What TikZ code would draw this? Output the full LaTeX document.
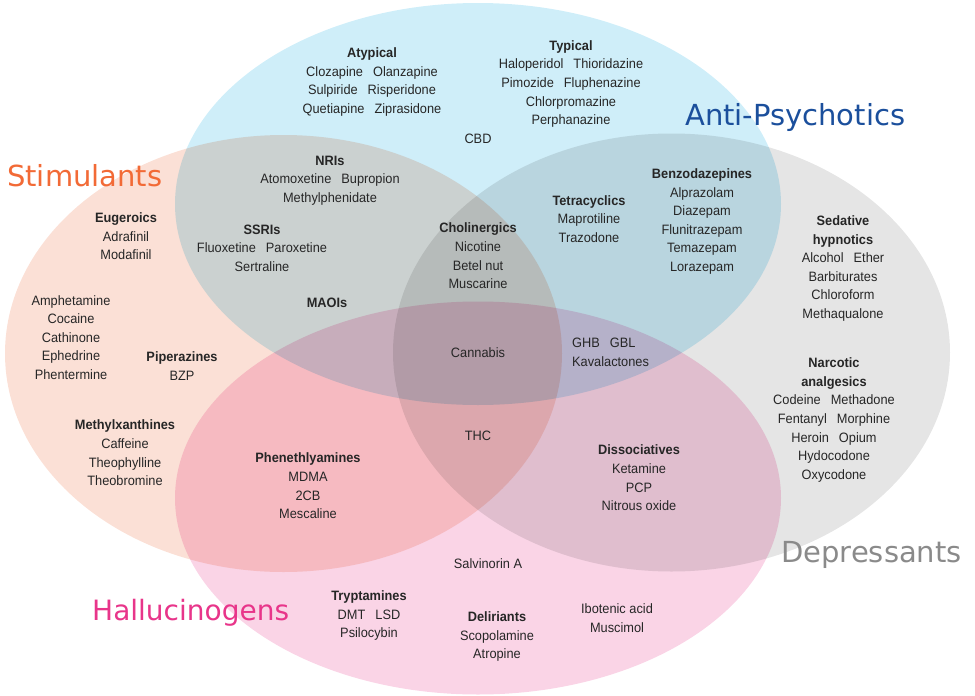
\documentclass[tikz,border=0pt]{standalone}
\usepackage{fontspec}
\setmainfont{Liberation Sans}[FakeStretch=0.94]
\newfontfamily\ttlfont{DejaVu Sans}
\newcommand\lblfont{\fontsize{13.6}{18.6}\selectfont}
\newcommand\wgap{\hspace{10pt}}
\definecolor{cTop}{HTML}{CFEEF9}
\definecolor{cLeft}{HTML}{FBE0D6}
\definecolor{cRight}{HTML}{E5E5E5}
\definecolor{cBot}{HTML}{FAD4E6}
\definecolor{txt}{HTML}{262626}
\definecolor{tStim}{HTML}{F26A36}
\definecolor{tAnti}{HTML}{1B4F9C}
\definecolor{tDep}{HTML}{8A8A8A}
\definecolor{tHal}{HTML}{E8358A}
\tikzset{
  lbl/.style={font=\lblfont, text=txt, align=center, inner sep=0pt},
  ttl/.style={font=\ttlfont\fontsize{29}{30}\selectfont, inner sep=0pt, anchor=base west},
  setfill/.style={draw=none, fill=#1}
}
\begin{document}
\begin{tikzpicture}[x=1pt,y=-1pt]
\useasboundingbox (0,0) rectangle (975,696);
\begin{scope}[blend group=multiply]
  \fill[setfill=cTop]   (478,204) ellipse [x radius=303, y radius=201];
  \fill[setfill=cLeft]  (283.5,353.5) ellipse [x radius=278.5, y radius=218.5];
  \fill[setfill=cRight] (671.5,352.5) ellipse [x radius=278.5, y radius=219];
  \fill[setfill=cBot]   (478,498) ellipse [x radius=303, y radius=196.5];
\end{scope}

% titles
\node[ttl, text=tStim] (tstim) at (7,186) {Stimulants};
\node[ttl, text=tAnti] (tanti) at (685,125) {Anti-Psychotics};
\node[ttl, text=tDep]  (tdep)  at (781,562) {Depressants};
\node[ttl, text=tHal, font=\ttlfont\fontsize{28}{30}\selectfont] (thal)  at (92,620) {Hallucinogens};

% anti-psychotics
\node[lbl] (atyp) at (372,82) {\textbf{Atypical}\\Clozapine\wgap Olanzapine\\Sulpiride\wgap Risperidone\\Quetiapine\wgap Ziprasidone};
\node[lbl] (typ) at (571,84) {\textbf{Typical}\\Haloperidol\wgap Thioridazine\\Pimozide\wgap Fluphenazine\\Chlorpromazine\\Perphanazine};
\node[lbl] (cbd) at (478,139) {CBD};

% top-left
\node[lbl] (nri) at (330,180.5) {\textbf{NRIs}\\Atomoxetine\wgap Bupropion\\Methylphenidate};
\node[lbl] (ssri) at (262,248) {\textbf{SSRIs}\\Fluoxetine\wgap Paroxetine\\Sertraline};
\node[lbl] (maoi) at (327,303) {\textbf{MAOIs}};

% stimulants
\node[lbl] (eug) at (126,236.5) {\textbf{Eugeroics}\\Adrafinil\\Modafinil};
\node[lbl] (amph) at (71,337.5) {Amphetamine\\Cocaine\\Cathinone\\Ephedrine\\Phentermine};
\node[lbl] (pip) at (182,366) {\textbf{Piperazines}\\BZP};
\node[lbl] (mxan) at (125,453) {\textbf{Methylxanthines}\\Caffeine\\Theophylline\\Theobromine};

% centre
\node[lbl] (chol) at (478,256) {\textbf{Cholinergics}\\Nicotine\\Betel nut\\Muscarine};
\node[lbl] (tetra) at (589,219) {\textbf{Tetracyclics}\\Maprotiline\\Trazodone};
\node[lbl] (benzo) at (702,221.5) {\textbf{Benzodazepines}\\Alprazolam\\Diazepam\\Flunitrazepam\\Temazepam\\Lorazepam};
\node[lbl] (canna) at (478,353) {Cannabis};
\node[lbl, align=left, anchor=west] (ghb) at (572,352.5) {GHB\wgap GBL\\Kavalactones};
\node[lbl] (thc) at (478,436) {THC};

% depressants
\node[lbl] (sed) at (843,268.5) {\textbf{Sedative}\\\textbf{hypnotics}\\Alcohol\wgap Ether\\Barbiturates\\Chloroform\\Methaqualone};
\node[lbl] (narc) at (834,420) {\textbf{Narcotic}\\\textbf{analgesics}\\Codeine\wgap Methadone\\Fentanyl\wgap Morphine\\Heroin\wgap Opium\\Hydocodone\\Oxycodone};

% hallucinogens
\node[lbl] (phen) at (308,486) {\textbf{Phenethlyamines}\\MDMA\\2CB\\Mescaline};
\node[lbl] (diss) at (639,478) {\textbf{Dissociatives}\\Ketamine\\PCP\\Nitrous oxide};
\node[lbl] (salv) at (488,564) {Salvinorin A};
\node[lbl] (tryp) at (369,615.5) {\textbf{Tryptamines}\\DMT\wgap LSD\\Psilocybin};
\node[lbl] (deli) at (497,636.5) {\textbf{Deliriants}\\Scopolamine\\Atropine};
\node[lbl] (ibo) at (617,618) {Ibotenic acid\\Muscimol};
\end{tikzpicture}
\end{document}
